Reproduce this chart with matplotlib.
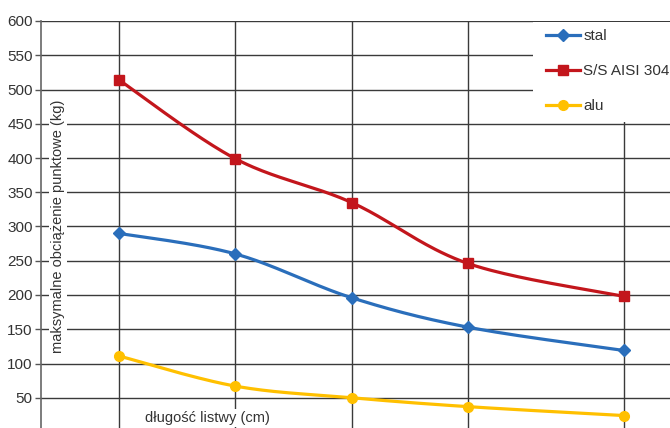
import numpy as np
import matplotlib
matplotlib.use("Agg")
import matplotlib.pyplot as plt
from matplotlib.patches import Rectangle

# ---- data ----
x_pos = [1, 2, 3, 4, 5.34]          # category positions (lengths; tick labels cut off)
stal = [290, 260, 196, 153, 119]
ss_aisi = [514, 399, 335, 246, 198]
alu = [111, 67, 50, 37, 24]
series_names = ["stal", "S/S AISI 304", "alu"]
y_ticks = [0, 50, 100, 150, 200, 250, 300, 350, 400, 450, 500, 550, 600]
x_label = "długość listwy (cm)"
y_label = "maksymalne obciążenie punktowe (kg)"

plt.rcParams['font.family'] = ['Liberation Sans', 'DejaVu Sans']

def smooth(xs, ys, n=40):
    """Excel-like smoothed line (Catmull-Rom Bezier) through the points."""
    P = np.column_stack([xs, ys]).astype(float)
    pts = np.vstack([P[0], P, P[-1]])
    out = []
    for i in range(1, len(pts) - 2):
        p0, p1, p2, p3 = pts[i - 1], pts[i], pts[i + 1], pts[i + 2]
        c1 = p1 + (p2 - p0) / 6.0
        c2 = p2 - (p3 - p1) / 6.0
        t = np.linspace(0, 1, n)[:, None]
        seg = ((1 - t) ** 3) * p1 + 3 * ((1 - t) ** 2) * t * c1 + 3 * (1 - t) * t ** 2 * c2 + t ** 3 * p2
        out.append(seg if i == 1 else seg[1:])
    s = np.vstack(out)
    return s[:, 0], s[:, 1]

W, H = 670, 428
fig = plt.figure(figsize=(W / 100, H / 100), dpi=100)
left = 41 / W
bottom = (H - 432.0) / H
top = (H - 21.0) / H
ax = fig.add_axes([left, bottom, 1.0 - left, top - bottom])

ax.set_xlim(0.33, 5.736)
ax.set_ylim(0, 600)
ax.set_yticks(y_ticks)
ax.set_xticks(x_pos)
ax.set_xticklabels([])
ax.tick_params(axis='y', direction='out', length=4, width=1, color='#555555',
               labelsize=11, labelcolor='#333333', pad=2)
ax.tick_params(axis='x', length=0)
ax.grid(True, color='#3a3a3a', linewidth=1.0)
ax.set_axisbelow(True)
for s in ['top', 'right', 'bottom']:
    ax.spines[s].set_visible(False)
ax.spines['left'].set_color('#666666')
ax.spines['left'].set_linewidth(1.2)

colors = ['#2a6ebb', '#c3161c', '#ffc000']
markers = ['D', 's', 'o']
msizes = [6.5, 7.5, 7]
handles = []
for vals, c, m, ms, name in zip([stal, ss_aisi, alu], colors, markers, msizes, series_names):
    sx, sy = smooth(x_pos, vals)
    ax.plot(sx, sy, color=c, linewidth=2.3, solid_capstyle='round', zorder=3)
    ax.plot(x_pos, vals, linestyle='none', marker=m, markersize=ms, color=c,
            markeredgecolor=c, zorder=4)
    h, = ax.plot([], [], color=c, linewidth=2.3, marker=m, markersize=ms,
                 markeredgecolor=c, label=name)
    handles.append(h)

# axis titles placed inside the plot on white background
fig.text(58 / W, (H - 226) / H, y_label, rotation=90, ha='center', va='center',
         fontsize=10.5, color='#333333',
         bbox=dict(facecolor='white', edgecolor='none', pad=1.5), zorder=5)
fig.text(145 / W, (H - 418) / H, x_label, ha='left', va='center',
         fontsize=10.5, color='#333333',
         bbox=dict(facecolor='white', edgecolor='none', pad=1.5), zorder=5)

# legend area (white, no border)
fig.patches.append(Rectangle((533 / W, (H - 122) / H), (W - 533) / W, 100 / H,
                             transform=fig.transFigure, facecolor='white',
                             edgecolor='none', zorder=5))
leg = fig.legend(handles=handles, loc='upper left',
                 bbox_to_anchor=(543 / W, (H - 26) / H), frameon=False,
                 fontsize=11, handlelength=2.2, handletextpad=0.25,
                 labelspacing=1.38, borderpad=0.2, borderaxespad=0,
                 labelcolor='#333333')
leg.set_zorder(6)

fig.savefig("out.png", dpi=100)
